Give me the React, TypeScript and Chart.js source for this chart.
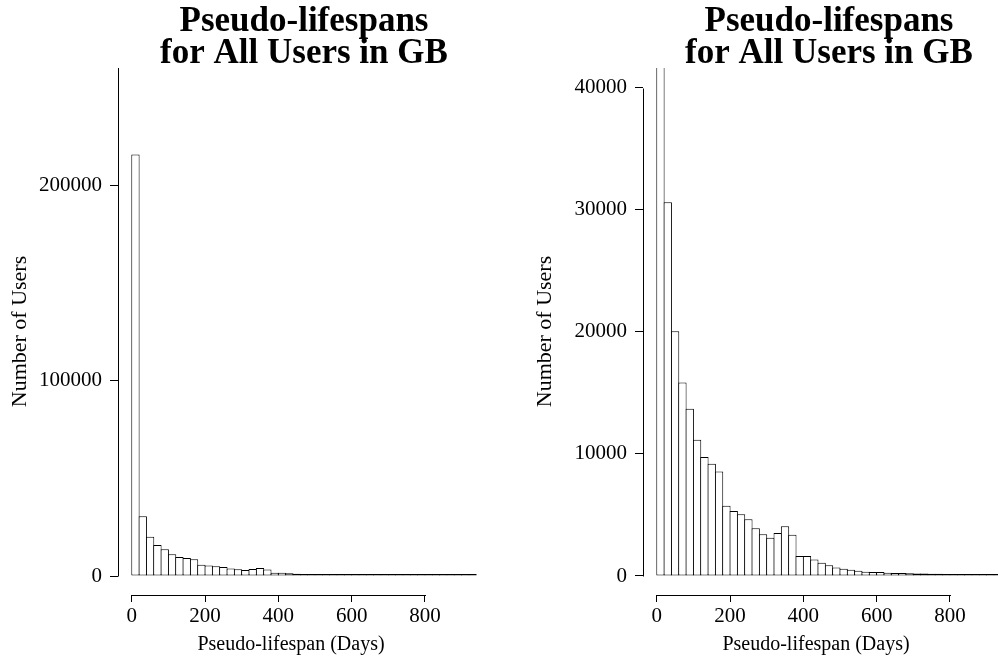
import { useEffect, useRef } from "react";
import { Chart, registerables } from "chart.js";

Chart.register(...registerables);

// Histogram bins (20-day bins), bin centres in days
const binCenters = [
  10, 30, 50, 70, 90, 110, 130, 150, 170, 190,
  210, 230, 250, 270, 290, 310, 330, 350, 370, 390,
  410, 430, 450, 470, 490, 510, 530, 550, 570, 590,
  610, 630, 650, 670, 690, 710, 730, 750, 770, 790,
  810, 830, 850, 870, 890, 910, 930,
];

// Number of users per bin
const userCounts = [
  215700, 30600, 20050, 15850, 13700, 11150, 9750, 9200, 8550, 5750,
  5330, 5050, 4650, 3900, 3420, 3130, 3520, 4080, 3380, 1640,
  1640, 1360, 1090, 880, 700, 600, 520, 420, 350, 330,
  320, 270, 250, 240, 220, 210, 200, 190, 180, 170,
  110, 90, 80, 60, 30, 20, 15,
];

const xTickValues = [0, 200, 400, 600, 800];
const leftYTicks = [0, 100000, 200000];
const rightYTicks = [0, 10000, 20000, 30000, 40000];

const titleLines = ["Pseudo-lifespans", "for All Users in GB"];
const xAxisTitle = "Pseudo-lifespan (Days)";
const yAxisTitle = "Number of Users";

const PANEL_W = 525;
const PANEL_H = 662;

const axisLinesPlugin = {
  id: "axisLines",
  afterDraw(chart: any, _args: any, opts: any) {
    const { ctx, chartArea, scales } = chart;
    const x = scales.x;
    const y = scales.y;
    ctx.save();
    ctx.strokeStyle = "#000";
    ctx.lineWidth = 1;
    ctx.beginPath();
    const ax = chartArea.left + 0.5;
    const yBottom = Math.round(y.getPixelForValue(opts.yFrom)) + 0.5;
    const yTop = opts.yTo == null ? chartArea.top : Math.round(y.getPixelForValue(opts.yTo)) + 0.5;
    ctx.moveTo(ax, yBottom);
    ctx.lineTo(ax, yTop);
    const ay = chartArea.bottom + 0.5;
    ctx.moveTo(Math.round(x.getPixelForValue(opts.xFrom)), ay);
    ctx.lineTo(Math.round(x.getPixelForValue(opts.xTo)) + 1, ay);
    ctx.stroke();

    // x-axis title (placed slightly left of the plot centre, as in the original)
    ctx.fillStyle = "#000";
    ctx.font = opts.xTitleFont;
    ctx.textAlign = "center";
    ctx.textBaseline = "alphabetic";
    ctx.fillText(opts.xTitle, (chartArea.left + chartArea.right) / 2 + opts.xTitleShift, opts.xTitleBaseline);
    ctx.restore();
  },
};

type PanelProps = {
  left: number;
  yMin: number;
  yMax: number;
  yTicks: number[];
  yLineTo: number | null;
};

function Panel({ left, yMin, yMax, yTicks, yLineTo }: PanelProps) {
  const ref = useRef<HTMLCanvasElement | null>(null);

  useEffect(() => {
    if (!ref.current) return;
    const tickFont = { family: "'Liberation Serif', serif", size: 21 };
    const chart = new Chart(ref.current, {
      type: "bar",
      data: {
        datasets: [
          {
            data: binCenters.map((c, i) => ({ x: c, y: userCounts[i] })),
            backgroundColor: "#ffffff",
            borderColor: "#000000",
            borderWidth: 1,
            borderSkipped: false,
            inflateAmount: 0,
            minBarLength: 2,
            // slightly wider than a bin so neighbouring outlines share one pixel
            barPercentage: 1.136,
            categoryPercentage: 1,
          } as any,
        ],
      },
      options: {
        animation: false,
        responsive: false,
        events: [],
        layout: { padding: { top: 4, right: 35, bottom: 0, left: 0 } },
        plugins: {
          legend: { display: false },
          tooltip: { enabled: false },
          title: {
            display: true,
            text: titleLines,
            fullSize: false,
            color: "#000",
            font: {
              family: "'Liberation Serif', serif",
              size: 35,
              weight: "bold",
              lineHeight: 32 / 35,
            },
            padding: { top: 2, bottom: -2 },
          },
          axisLines: {
            xFrom: 0,
            xTo: 800,
            yFrom: 0,
            yTo: yLineTo,
            xTitle: xAxisTitle,
            xTitleFont: "20px 'Liberation Serif', serif",
            xTitleShift: -13,
            xTitleBaseline: 650,
          },
        } as any,
        scales: {
          x: {
            type: "linear",
            min: -37.6,
            max: 977.6,
            offset: false,
            afterBuildTicks: (scale: any) => {
              scale.ticks = xTickValues.map((v) => ({ value: v }));
            },
            afterFit: (scale: any) => {
              scale.height = 67;
            },
            ticks: {
              autoSkip: false,
              maxRotation: 0,
              color: "#000",
              font: tickFont,
              padding: 2,
              callback: (v: any) => String(v),
            },
            grid: {
              display: true,
              offset: false,
              drawOnChartArea: false,
              drawTicks: true,
              tickLength: 7,
              color: "#000",
              lineWidth: 1,
            },
            border: { display: false },
            title: { display: false },
          },
          y: {
            type: "linear",
            min: yMin,
            max: yMax,
            afterBuildTicks: (scale: any) => {
              scale.ticks = yTicks.map((v) => ({ value: v }));
            },
            afterFit: (scale: any) => {
              scale.width = 118;
            },
            ticks: {
              autoSkip: false,
              color: "#000",
              font: tickFont,
              padding: 8,
              callback: (v: any) => String(v),
            },
            grid: {
              display: true,
              drawOnChartArea: false,
              drawTicks: true,
              tickLength: 8,
              color: "#000",
              lineWidth: 1,
            },
            border: { display: false },
            title: {
              display: true,
              text: yAxisTitle,
              color: "#000",
              font: { family: "'Liberation Serif', serif", size: 22 },
              padding: { top: 7, bottom: 0 },
            },
          },
        },
      } as any,
      plugins: [axisLinesPlugin],
    });
    return () => chart.destroy();
  }, [yMin, yMax, yTicks, yLineTo]);

  return (
    <canvas
      ref={ref}
      width={PANEL_W}
      height={PANEL_H}
      style={{ position: "absolute", left, top: 0, width: PANEL_W, height: PANEL_H }}
    />
  );
}

export default function App() {
  return (
    <div
      style={{
        position: "fixed",
        left: 0,
        top: 0,
        width: 998,
        height: 662,
        overflow: "hidden",
        background: "#fff",
      }}
    >
      <Panel left={0} yMin={-9724} yMax={260000} yTicks={leftYTicks} yLineTo={null} />
      <Panel left={PANEL_W} yMin={-1556} yMax={41600} yTicks={rightYTicks} yLineTo={40000} />
    </div>
  );
}
